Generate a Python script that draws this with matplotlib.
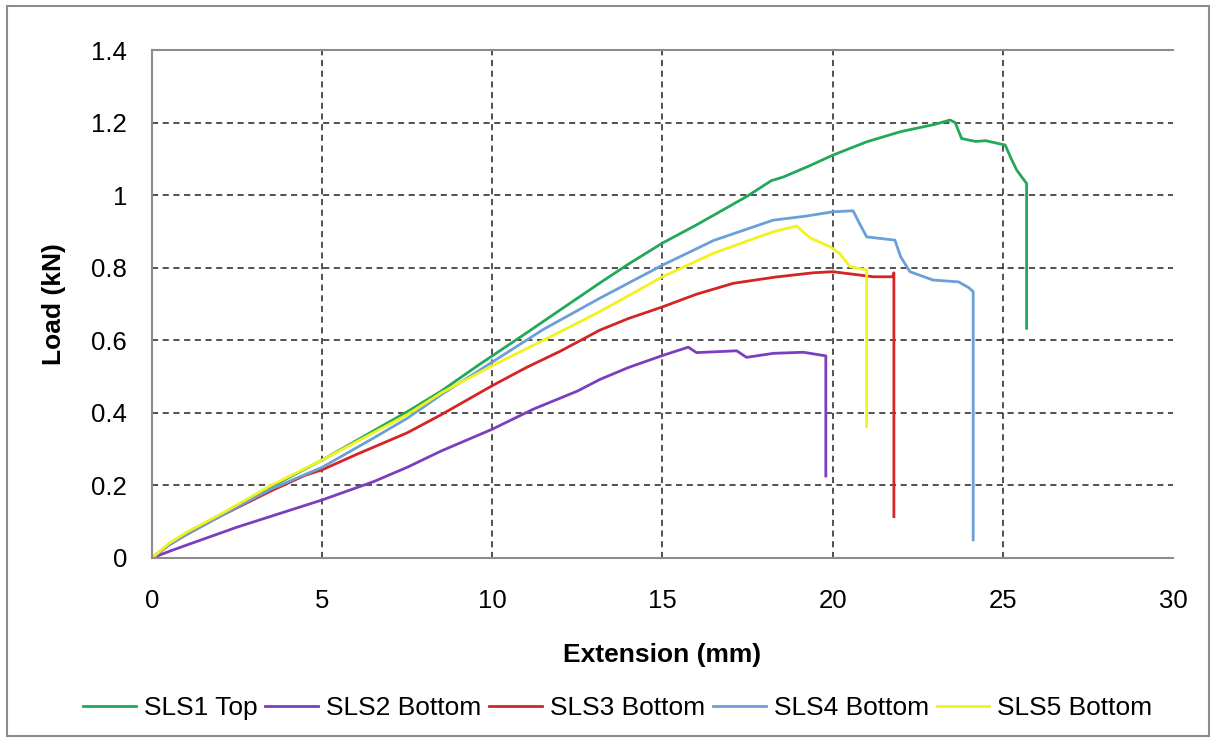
import matplotlib
matplotlib.use('Agg')
import matplotlib.pyplot as plt
from matplotlib.patches import Rectangle

plt.rcParams['font.family'] = ['Liberation Sans', 'DejaVu Sans']

# curvas carga x extensao
sls1_x = [0, 0.5, 1, 2, 3.5, 5, 6.5, 7.5, 8.5, 9.6, 11, 12, 13.16, 14, 15, 16, 17.47, 18.2, 18.55, 19.3, 20, 21, 22, 23, 23.45, 23.6, 23.79, 24.2, 24.5, 25.07, 25.25, 25.41, 25.7, 25.7]
sls1_y = [0, 0.038, 0.068, 0.118, 0.196, 0.27, 0.35, 0.403, 0.46, 0.532, 0.62, 0.684, 0.758, 0.81, 0.868, 0.918, 0.996, 1.04, 1.05, 1.08, 1.11, 1.147, 1.175, 1.195, 1.207, 1.2, 1.156, 1.148, 1.15, 1.138, 1.1, 1.069, 1.032, 0.633]

sls2_x = [0, 0.5, 1, 2.5, 4, 5, 6.5, 7.5, 8.5, 10, 11.2, 12.5, 13.16, 14, 15.03, 15.76, 16.0, 17.18, 17.47, 18.26, 19.14, 19.8, 19.8]
sls2_y = [0, 0.018, 0.035, 0.085, 0.13, 0.16, 0.21, 0.25, 0.295, 0.355, 0.41, 0.46, 0.492, 0.525, 0.559, 0.581, 0.566, 0.571, 0.553, 0.564, 0.567, 0.557, 0.226]

sls3_x = [0, 0.5, 1, 2, 3.5, 4.5, 5, 6, 7.5, 8.5, 10, 11, 12, 13.16, 14, 15, 16, 17.08, 18.3, 19.43, 20.0, 20.6, 21.2, 21.76, 21.8, 21.8]
sls3_y = [0, 0.036, 0.064, 0.115, 0.185, 0.228, 0.243, 0.285, 0.345, 0.395, 0.475, 0.525, 0.57, 0.628, 0.66, 0.692, 0.727, 0.757, 0.774, 0.786, 0.789, 0.782, 0.775, 0.775, 0.786, 0.114]

sls4_x = [0, 0.5, 1, 2, 3.5, 5, 6.5, 7.5, 8.5, 10, 11.5, 13.16, 15, 16.5, 18.25, 19.2, 20, 20.6, 20.8, 21.0, 21.83, 22.0, 22.27, 22.95, 23.7, 24.0, 24.13, 24.13]
sls4_y = [0, 0.036, 0.064, 0.115, 0.19, 0.25, 0.33, 0.385, 0.45, 0.54, 0.63, 0.716, 0.807, 0.875, 0.931, 0.942, 0.954, 0.957, 0.92, 0.885, 0.876, 0.83, 0.789, 0.766, 0.761, 0.745, 0.734, 0.05]

sls5_x = [0, 0.5, 1, 2, 3.5, 5, 6, 7, 7.5, 8.5, 10, 11.5, 13.16, 15, 16.5, 18.25, 18.94, 19.34, 19.92, 20.2, 20.51, 21.0, 21.0]
sls5_y = [0, 0.04, 0.07, 0.12, 0.2, 0.27, 0.32, 0.37, 0.395, 0.455, 0.53, 0.6, 0.679, 0.775, 0.84, 0.899, 0.915, 0.882, 0.858, 0.84, 0.803, 0.794, 0.362]

nomes = ['SLS1 Top', 'SLS2 Bottom', 'SLS3 Bottom', 'SLS4 Bottom', 'SLS5 Bottom']
cores = ['#22a85a', '#7a3fbf', '#d42424', '#6a9fd8', '#f2f21c']
series = [(sls1_x, sls1_y), (sls2_x, sls2_y), (sls3_x, sls3_y), (sls4_x, sls4_y), (sls5_x, sls5_y)]

fig = plt.figure(figsize=(12.16, 7.42), dpi=100)
ax = fig.add_axes([0.125, 0.248, 0.8396, 0.6846])

# moldura externa
fig.patches.append(Rectangle((0.006, 0.008), 0.988, 0.984, transform=fig.transFigure,
                             fill=False, edgecolor='#8c8c8c', linewidth=1.5))

for (xs, ys), nome, cor in zip(series, nomes, cores):
    ax.plot(xs, ys, color=cor, linewidth=2.0, label=nome)

ax.set_xlim(0, 30)
ax.set_ylim(0, 1.4)
ax.set_xticks(range(0, 31, 5))
ax.set_yticks([0, 0.2, 0.4, 0.6, 0.8, 1.0, 1.2, 1.4])
ax.set_yticklabels(['0', '0.2', '0.4', '0.6', '0.8', '1', '1.2', '1.4'])
ax.grid(True, color='#222222', linestyle=(0, (4, 3)), linewidth=1.1)
ax.get_xgridlines()[-1].set_visible(False)
ax.tick_params(length=0, labelsize=18.5)
ax.tick_params(axis='x', pad=22)
ax.tick_params(axis='y', pad=18)
for s in ['left', 'bottom', 'top']:
    ax.spines[s].set_color('#8c8c8c')
    ax.spines[s].set_linewidth(1.5)
ax.spines['right'].set_visible(False)

ax.set_xlabel('Extension (mm)', fontsize=19, fontweight='bold', labelpad=22)
ax.set_ylabel('Load (kN)', fontsize=19, fontweight='bold', labelpad=18)

fig.legend(loc='center', bbox_to_anchor=(0.508, 0.046), ncol=5, frameon=False,
           fontsize=19, handlelength=2.0, handletextpad=0.3, columnspacing=0.3)

fig.savefig('out.png', dpi=100)
